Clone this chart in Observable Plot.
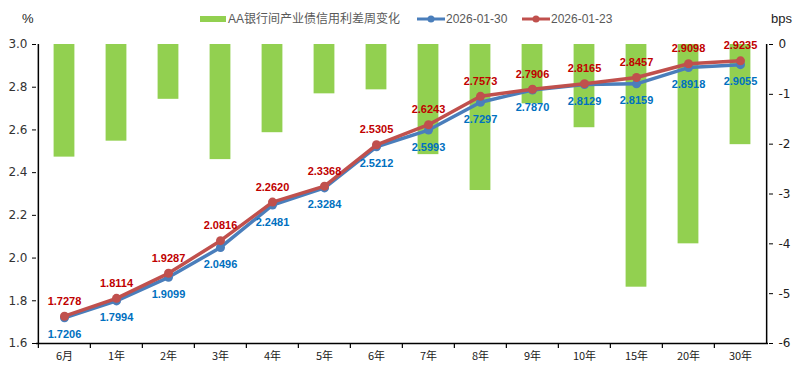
<!DOCTYPE html>
<html><head><meta charset="utf-8">
<script src="https://cdn.jsdelivr.net/npm/d3@7"></script>
<script src="https://cdn.jsdelivr.net/npm/@observablehq/plot@0.6"></script>
<style>
body{margin:0;background:#fff;}
#wrap{position:relative;width:800px;height:375px;overflow:hidden;font-family:"Liberation Sans","Noto Sans CJK SC",sans-serif;}
#head{position:absolute;left:0;top:0;width:800px;height:36px;}
.unit{position:absolute;top:11px;font-size:13px;color:#222;font-family:"Liberation Sans",sans-serif;}
.leg{position:absolute;top:10px;font-size:12px;color:#595959;white-space:nowrap;line-height:16px;font-family:"Liberation Sans","Noto Sans CJK SC",sans-serif;}
.layer{position:absolute;left:0;top:36px;}
</style></head><body>
<div id="wrap">
  <div id="head">
    <div class="unit" style="left:22px;">%</div>
    <div class="unit" style="left:771px;">bps</div>
    <div class="leg" style="left:200px;"><span style="display:inline-block;width:26px;height:6px;background:#92D050;vertical-align:middle;margin-right:2px;"></span><span style="vertical-align:middle;">AA银行间产业债信用利差周变化</span></div>
    <div class="leg" style="left:416px;"><svg width="30" height="10" style="vertical-align:middle;"><line x1="1" y1="5" x2="29" y2="5" stroke="#4A7EBB" stroke-width="3"/><circle cx="15" cy="5" r="3.5" fill="#4A7EBB"/></svg><span style="vertical-align:middle;">2026-01-30</span></div>
    <div class="leg" style="left:521px;"><svg width="30" height="10" style="vertical-align:middle;"><line x1="1" y1="5" x2="29" y2="5" stroke="#C0504D" stroke-width="3"/><circle cx="15" cy="5" r="3.5" fill="#C0504D"/></svg><span style="vertical-align:middle;">2026-01-23</span></div>
  </div>
  <div id="bars" class="layer"></div>
  <div id="lines" class="layer"></div>
</div>
<script>
const categories = ["6月","1年","2年","3年","4年","5年","6年","7年","8年","9年","10年","15年","20年","30年"];
const spreadChange = [-2.26,-1.94,-1.10,-2.31,-1.77,-0.99,-0.91,-2.21,-2.93,-1.19,-1.67,-4.87,-4.00,-2.01];
const yield0130 = [1.7206,1.7994,1.9099,2.0496,2.2481,2.3284,2.5212,2.5993,2.7297,2.7870,2.8129,2.8159,2.8918,2.9055];
const yield0123 = [1.7278,1.8114,1.9287,2.0816,2.2620,2.3368,2.5305,2.6243,2.7573,2.7906,2.8165,2.8457,2.9098,2.9235];
const leftTicks = [1.6,1.8,2.0,2.2,2.4,2.6,2.8,3.0];
const rightTicks = [0,-1,-2,-3,-4,-5,-6];

const W = 800, H = 339, MT = 8, MB = 32, ML = 36, MR = 32;
const bw = (W - ML - MR) / categories.length;
const tickFont = "'DejaVu Sans', sans-serif";

const barData = categories.map((c, i) => ({c, v: spreadChange[i]}));
const blueData = categories.map((c, i) => ({c, v: yield0130[i]}));
const redData = categories.map((c, i) => ({c, v: yield0123[i]}));

const barsPlot = Plot.plot({
  width: W, height: H, marginTop: MT, marginBottom: MB, marginLeft: ML, marginRight: MR,
  style: {background: "transparent", overflow: "visible"},
  x: {type: "band", domain: categories, padding: 0, axis: null},
  y: {domain: [-6, 0], axis: null},
  marks: [
    Plot.barY(barData, {x: "c", y1: 0, y2: "v", fill: "#92D050", insetLeft: 15.6, insetRight: 15.6}),
    Plot.ruleY([-6], {stroke: "#000", strokeWidth: 1.5}),
    Plot.ruleX(categories, {y1: -6, y2: -6.1, dx: -bw / 2, stroke: "#000", strokeWidth: 1.2}),
    Plot.ruleX([categories[categories.length - 1]], {y1: -6, y2: 0, dx: bw / 2, stroke: "#000", strokeWidth: 1.5}),
    Plot.axisY({anchor: "right", ticks: rightTicks, tickSize: 4, tickPadding: 6, tickFormat: d => String(d), fontSize: 12, fontFamily: tickFont, fill: "#222", label: null}),
    Plot.axisX({anchor: "bottom", tickSize: 0, tickPadding: 9, fontSize: 11, fontFamily: "'Noto Sans CJK SC', sans-serif", fill: "#222", label: null})
  ]
});
document.getElementById("bars").appendChild(barsPlot);

const labelFont = "'Liberation Sans', Arial, sans-serif";
const linesPlot = Plot.plot({
  width: W, height: H, marginTop: MT, marginBottom: MB, marginLeft: ML, marginRight: MR,
  style: {background: "transparent", overflow: "visible"},
  x: {type: "band", domain: categories, padding: 0, axis: null},
  y: {domain: [1.6, 3.0], axis: null},
  marks: [
    Plot.ruleX([categories[0]], {y1: 1.6, y2: 3.0, dx: -bw / 2, stroke: "#000", strokeWidth: 1.5}),
    Plot.axisY({anchor: "left", ticks: leftTicks, tickSize: 4, tickPadding: 5, tickFormat: d => d.toFixed(1), fontSize: 12, fontFamily: tickFont, fill: "#333", label: null}),
    Plot.line(blueData, {x: "c", y: "v", stroke: "#4A7EBB", strokeWidth: 3.5}),
    Plot.dot(blueData, {x: "c", y: "v", r: 4.5, fill: "#4A7EBB"}),
    Plot.line(redData, {x: "c", y: "v", stroke: "#C0504D", strokeWidth: 3.5}),
    Plot.dot(redData, {x: "c", y: "v", r: 4.5, fill: "#C0504D"}),
    Plot.text(blueData, {x: "c", y: "v", text: d => d.v.toFixed(4), dy: 17, fill: "#0070C0", fontWeight: "bold", fontSize: 11, fontFamily: labelFont}),
    Plot.text(redData, {x: "c", y: "v", text: d => d.v.toFixed(4), dy: -15, fill: "#C00000", fontWeight: "bold", fontSize: 11, fontFamily: labelFont})
  ]
});
document.getElementById("lines").appendChild(linesPlot);
</script>
</body></html>
